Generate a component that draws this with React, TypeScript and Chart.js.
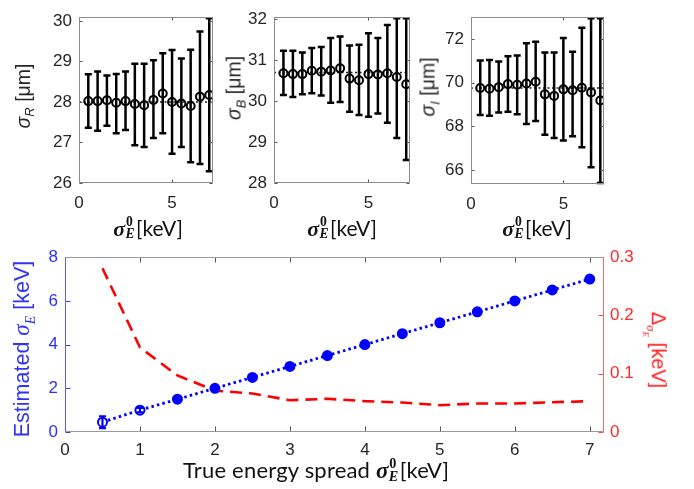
import React, { useEffect, useRef } from 'react';
import { Chart, registerables } from 'chart.js';
Chart.register(...registerables);

// ---------- data ----------
const X_TRUE = [0.5, 1, 1.5, 2, 2.5, 3, 3.5, 4, 4.5, 5, 5.5, 6, 6.5, 7];

const SR_MEAN = [28.02, 28.02, 28.04, 27.98, 28.02, 27.95, 27.92, 28.05, 28.21, 28.0, 27.96, 27.9, 28.13, 28.17];
const SR_HI = [28.68, 28.75, 28.65, 28.69, 28.75, 28.94, 28.94, 29.03, 29.2, 29.28, 29.07, 29.29, 29.74, 30.3];
const SR_LO = [27.36, 27.29, 27.41, 27.23, 27.31, 26.93, 26.89, 27.11, 27.23, 26.72, 26.89, 26.51, 26.47, 26.29];
const SR_REF = 28.0;

const SB_MEAN = [30.68, 30.66, 30.66, 30.74, 30.72, 30.75, 30.8, 30.55, 30.51, 30.66, 30.65, 30.68, 30.59, 30.41];
const SB_HI = [31.23, 31.23, 31.19, 31.3, 31.32, 31.54, 31.58, 31.36, 31.38, 31.66, 31.54, 31.86, 32.06, 32.06];
const SB_LO = [30.15, 30.1, 30.17, 30.19, 30.14, 29.96, 29.98, 29.74, 29.66, 29.62, 29.7, 29.47, 29.1, 28.56];
const SB_REF = 30.7;

const SI_MEAN = [69.75, 69.72, 69.79, 69.93, 69.9, 69.96, 70.04, 69.46, 69.39, 69.69, 69.65, 69.76, 69.55, 69.18];
const SI_HI = [71.01, 71.03, 70.96, 71.2, 71.24, 71.8, 71.87, 71.38, 71.38, 72.04, 71.41, 72.51, 72.99, 72.99];
const SI_LO = [68.52, 68.48, 68.63, 68.66, 68.55, 68.1, 68.24, 67.61, 67.46, 67.35, 67.54, 67.04, 66.13, 65.35];
const SI_REF = 69.75;

const EST = [0.45, 1.0, 1.5, 2.0, 2.5, 3.0, 3.5, 4.0, 4.5, 5.0, 5.5, 6.0, 6.5, 7.0];
const EST_ERR = [0.27, 0.1, 0.08, 0.08, 0.1, 0.08, 0.1, 0.08, 0.08, 0.08, 0.1, 0.08, 0.08, 0.08];
const DELTA = [0.281, 0.145, 0.097, 0.071, 0.066, 0.0545, 0.057, 0.053, 0.0506, 0.046, 0.049, 0.049, 0.051, 0.053];

const TOP_X_TICKS = [0, 5];
const SR_TICKS = [26, 27, 28, 29, 30];
const SB_TICKS = [28, 29, 30, 31, 32];
const SI_TICKS = [66, 68, 70, 72];
const BOT_X_TICKS = [0, 1, 2, 3, 4, 5, 6, 7];
const EST_TICKS = [0, 2, 4, 6, 8];
const DELTA_TICKS = [0, 0.1, 0.2, 0.3];

const TOP_X_MAX = 7.2;
const BOT_X_MAX = 7.19;

// ---------- helpers ----------
const SANS = '"Liberation Sans", Arial, sans-serif';
const BLUE = '#0000ff';
const RED = '#ff0000';

type TickSpec = { scale: string; sides: string[]; color: string; len: number };
type FrameSpec = { edges: { top: string; bottom: string; left: string; right: string }; ticks: TickSpec[] };

function makeFrame(spec: FrameSpec) {
  return {
    id: 'frame',
    afterDatasetsDraw(chart: any) {
      const { ctx, chartArea: a } = chart;
      ctx.save();
      ctx.beginPath();
      ctx.rect(a.left - 5, a.top - 2, a.right - a.left + 10, a.bottom - a.top + 4);
      ctx.clip();
      chart.data.datasets.forEach((ds: any, i: number) => {
        if (!ds.errLo) return;
        const meta = chart.getDatasetMeta(i);
        const xs = chart.scales[meta.xAxisID];
        const ys = chart.scales[meta.yAxisID];
        ctx.strokeStyle = ds.errColor;
        ctx.lineWidth = ds.errWidth;
        ds.data.forEach((p: any, j: number) => {
          const x = xs.getPixelForValue(p.x);
          const y1 = Math.min(ys.getPixelForValue(ds.errLo[j]), a.bottom - 1);
          const y2 = Math.max(ys.getPixelForValue(ds.errHi[j]), a.top + 1);
          ctx.beginPath();
          ctx.moveTo(x, y1);
          ctx.lineTo(x, y2);
          ctx.moveTo(x - ds.errCap, y1);
          ctx.lineTo(x + ds.errCap, y1);
          ctx.moveTo(x - ds.errCap, y2);
          ctx.lineTo(x + ds.errCap, y2);
          ctx.stroke();
        });
      });
      ctx.restore();
    },
    afterDraw(chart: any) {
      const { ctx, chartArea: a } = chart;
      ctx.save();
      const L = Math.round(a.left) + 0.5;
      const R = Math.round(a.right) - 0.5;
      const T = Math.round(a.top) + 0.5;
      const B = Math.round(a.bottom) - 0.5;
      ctx.lineWidth = 1;
      spec.ticks.forEach((t) => {
        const s = chart.scales[t.scale];
        ctx.strokeStyle = t.color;
        s.ticks.forEach((tk: any) => {
          const p = Math.round(s.getPixelForValue(tk.value)) + 0.5;
          t.sides.forEach((side) => {
            ctx.beginPath();
            if (side === 'bottom') { ctx.moveTo(p, B); ctx.lineTo(p, B - t.len); }
            if (side === 'top') { ctx.moveTo(p, T); ctx.lineTo(p, T + t.len); }
            if (side === 'left') { ctx.moveTo(L, p); ctx.lineTo(L + t.len, p); }
            if (side === 'right') { ctx.moveTo(R, p); ctx.lineTo(R - t.len, p); }
            ctx.stroke();
          });
        });
      });
      const e = spec.edges;
      const seg = (c: string, x1: number, y1: number, x2: number, y2: number) => {
        ctx.strokeStyle = c;
        ctx.beginPath();
        ctx.moveTo(x1, y1);
        ctx.lineTo(x2, y2);
        ctx.stroke();
      };
      seg(e.top, L, T, R, T);
      seg(e.bottom, L, B, R, B);
      seg(e.left, L, T, L, B);
      seg(e.right, R, T, R, B);
      ctx.restore();
    },
  };
}

function fixedTicks(vals: number[]) {
  return (s: any) => {
    s.ticks = vals.map((v) => ({ value: v }));
  };
}

function topPanelConfig(
  mean: number[], lo: number[], hi: number[], ref: number,
  yMin: number, yMax: number, yTicks: number[],
  yAxisWidth: number, padTop: number, padRight: number, xAxisHeight: number
) {
  const gray = '#8a8a8a';
  return {
    type: 'line',
    data: {
      datasets: [
        {
          data: X_TRUE.map((x, i) => ({ x, y: mean[i] })),
          showLine: false,
          pointRadius: 4,
          pointBorderWidth: 2,
          pointBorderColor: '#000',
          pointBackgroundColor: 'rgba(0,0,0,0)',
          errLo: lo,
          errHi: hi,
          errColor: '#000',
          errWidth: 2.5,
          errCap: 3.5,
        },
        {
          data: [{ x: 0, y: ref }, { x: TOP_X_MAX, y: ref }],
          borderColor: '#222',
          borderWidth: 1.5,
          borderDash: [2, 2.5],
          pointRadius: 0,
        },
      ],
    },
    options: {
      animation: false,
      responsive: false,
      devicePixelRatio: 1,
      events: [],
      layout: { padding: { top: padTop, right: padRight, left: 0, bottom: 0 } },
      plugins: { legend: { display: false }, tooltip: { enabled: false } },
      scales: {
        x: {
          type: 'linear',
          min: 0,
          max: TOP_X_MAX,
          afterBuildTicks: fixedTicks(TOP_X_TICKS),
          afterFit: (s: any) => { s.height = xAxisHeight; },
          grid: { display: false, drawTicks: false },
          border: { display: false },
          ticks: { color: '#262626', font: { family: SANS, size: 17 }, padding: 10, maxRotation: 0, autoSkip: false },
        },
        y: {
          type: 'linear',
          min: yMin,
          max: yMax,
          afterBuildTicks: fixedTicks(yTicks),
          afterFit: (s: any) => { s.width = yAxisWidth; },
          grid: { display: false, drawTicks: false },
          border: { display: false },
          ticks: { color: '#262626', font: { family: SANS, size: 17 }, padding: 7, autoSkip: false },
        },
      },
    },
    plugins: [
      makeFrame({
        edges: { top: gray, bottom: gray, left: gray, right: gray },
        ticks: [
          { scale: 'x', sides: ['bottom', 'top'], color: '#555', len: 3 },
          { scale: 'y', sides: ['left', 'right'], color: '#555', len: 3 },
        ],
      }),
    ],
  };
}

function bottomConfig() {
  return {
    type: 'line',
    data: {
      datasets: [
        {
          data: X_TRUE.map((x, i) => ({ x, y: EST[i] })),
          yAxisID: 'y',
          borderColor: BLUE,
          borderWidth: 2.8,
          borderDash: [2.5, 3.2],
          pointRadius: 4.5,
          pointBorderWidth: 2,
          pointBorderColor: BLUE,
          pointBackgroundColor: X_TRUE.map((_, i) => (i < 2 ? '#ffffff' : BLUE)),
          errLo: EST.map((v, i) => v - EST_ERR[i]),
          errHi: EST.map((v, i) => v + EST_ERR[i]),
          errColor: BLUE,
          errWidth: 2.2,
          errCap: 3.5,
        },
        {
          data: X_TRUE.map((x, i) => ({ x, y: DELTA[i] })),
          yAxisID: 'y1',
          borderColor: RED,
          borderWidth: 2.6,
          borderDash: [12, 7],
          pointRadius: 0,
        },
      ],
    },
    options: {
      animation: false,
      responsive: false,
      devicePixelRatio: 1,
      events: [],
      layout: { padding: { top: 14, right: 0, left: 0, bottom: 0 } },
      plugins: { legend: { display: false }, tooltip: { enabled: false } },
      scales: {
        x: {
          type: 'linear',
          min: 0,
          max: BOT_X_MAX,
          afterBuildTicks: fixedTicks(BOT_X_TICKS),
          afterFit: (s: any) => { s.height = 43; },
          grid: { display: false, drawTicks: false },
          border: { display: false },
          ticks: { color: '#262626', font: { family: SANS, size: 17 }, padding: 8, maxRotation: 0, autoSkip: false },
        },
        y: {
          type: 'linear',
          position: 'left',
          min: 0,
          max: 8,
          afterBuildTicks: fixedTicks(EST_TICKS),
          afterFit: (s: any) => { s.width = 65; },
          grid: { display: false, drawTicks: false },
          border: { display: false },
          ticks: { color: '#2f2ff5', font: { family: SANS, size: 17 }, padding: 7, autoSkip: false },
        },
        y1: {
          type: 'linear',
          position: 'right',
          min: 0,
          max: 0.3,
          afterBuildTicks: fixedTicks(DELTA_TICKS),
          afterFit: (s: any) => { s.width = 90; },
          grid: { display: false, drawTicks: false },
          border: { display: false },
          ticks: {
            color: '#ff2a2a',
            font: { family: SANS, size: 17 },
            padding: 6,
            autoSkip: false,
            callback: (v: any) => String(v),
          },
        },
      },
    },
    plugins: [
      makeFrame({
        edges: { top: '#9a9a9a', bottom: '#9a9a9a', left: '#5a5aff', right: '#ff6a6a' },
        ticks: [
          { scale: 'x', sides: ['bottom', 'top'], color: '#555', len: 5 },
          { scale: 'y', sides: ['left'], color: '#3a3aff', len: 5 },
          { scale: 'y1', sides: ['right'], color: '#ff4a4a', len: 5 },
        ],
      }),
    ],
  };
}

function ChartCanvas({ config, left, top, width, height }: any) {
  const ref = useRef<HTMLCanvasElement | null>(null);
  useEffect(() => {
    if (!ref.current) return;
    const c = new Chart(ref.current, config());
    return () => c.destroy();
  }, []);
  return (
    <canvas
      ref={ref}
      width={width}
      height={height}
      style={{ position: 'absolute', left, top, width, height }}
    />
  );
}

const SERIF = '"Liberation Serif", "DejaVu Serif", serif';
const TITLE_SANS = 'Lato, "Open Sans", sans-serif';

function SigmaE0({ size }: { size: number }) {
  return (
    <span style={{ display: 'inline-block', position: 'relative', fontFamily: SERIF, fontStyle: 'italic', fontWeight: 'bold', letterSpacing: 0 }}>
      <span style={{ fontSize: size }}>σ</span>
      <span style={{ display: 'inline-block', width: size * 0.5 }} />
      <span style={{ position: 'absolute', left: size * 0.58, top: -size * 0.15, fontSize: size * 0.62, fontStyle: 'normal' }}>0</span>
      <span style={{ position: 'absolute', left: size * 0.56, top: size * 0.42, fontSize: size * 0.62 }}>E</span>
    </span>
  );
}

function TopXTitle({ cx }: { cx: number }) {
  return (
    <div style={{ position: 'absolute', left: cx, top: 228, transform: 'translate(-50%,-50%)', whiteSpace: 'nowrap', color: '#111', lineHeight: 1 }}>
      <SigmaE0 size={22} />
      <span style={{ fontFamily: TITLE_SANS, fontSize: 21 }}>[keV]</span>
    </div>
  );
}

function TopYTitle({ cx, cy, sub }: { cx: number; cy: number; sub: string }) {
  return (
    <div style={{ position: 'absolute', left: cx, top: cy, transform: 'translate(-50%,-50%) rotate(-90deg)', whiteSpace: 'nowrap', color: '#262626', fontFamily: SANS, fontSize: 19.5, lineHeight: 1 }}>
      <span style={{ fontStyle: 'italic' }}>σ</span>
      <sub style={{ fontStyle: 'italic', fontSize: 13 }}>{sub}</sub> [μm]
    </div>
  );
}

export default function App() {
  return (
    <div style={{ position: 'absolute', left: 0, top: 0, width: 694, height: 489, background: '#fff', overflow: 'hidden' }}>
      <ChartCanvas left={0} top={0} width={225} height={215}
        config={() => topPanelConfig(SR_MEAN, SR_LO, SR_HI, SR_REF, 26, 30.09, SR_TICKS, 79, 6, 12, 32)} />
      <ChartCanvas left={225} top={0} width={205} height={215}
        config={() => topPanelConfig(SB_MEAN, SB_LO, SB_HI, SB_REF, 28, 32.05, SB_TICKS, 49, 5, 20, 32)} />
      <ChartCanvas left={430} top={0} width={264} height={215}
        config={() => topPanelConfig(SI_MEAN, SI_LO, SI_HI, SI_REF, 65.36, 72.99, SI_TICKS, 41, 6, 90, 31)} />
      <ChartCanvas left={0} top={240} width={694} height={235} config={bottomConfig} />

      <TopYTitle cx={25} cy={96} sub="R" />
      <TopYTitle cx={236} cy={88} sub="B" />
      <TopYTitle cx={430} cy={87} sub="I" />

      <TopXTitle cx={148} />
      <TopXTitle cx={342} />
      <TopXTitle cx={537} />

      {/* bottom x title */}
      <div style={{ position: 'absolute', left: 183, top: 459, whiteSpace: 'nowrap', color: '#111', lineHeight: 1 }}>
        <span style={{ fontFamily: TITLE_SANS, fontSize: 22, letterSpacing: 0.2 }}>True energy spread </span>
        <SigmaE0 size={23} />
        <span style={{ fontFamily: TITLE_SANS, fontSize: 22 }}>[keV]</span>
      </div>

      {/* bottom left y title */}
      <div style={{ position: 'absolute', left: 24, top: 349, transform: 'translate(-50%,-50%) rotate(-90deg)', whiteSpace: 'nowrap', color: '#3232f2', fontFamily: SANS, fontSize: 21.5, lineHeight: 1 }}>
        Estimated <span style={{ fontFamily: SERIF, fontStyle: 'italic', fontSize: 23 }}>σ</span>
        <sub style={{ fontFamily: SERIF, fontStyle: 'italic', fontSize: 14 }}>E</sub> [keV]
      </div>

      {/* bottom right y title */}
      <div style={{ position: 'absolute', left: 655, top: 350, transform: 'translate(-50%,-50%) rotate(90deg)', whiteSpace: 'nowrap', color: '#ff2020', fontFamily: SANS, fontSize: 20, lineHeight: 1 }}>
        Δ<sub style={{ fontSize: 13 }}><span style={{ fontFamily: SERIF, fontStyle: 'italic' }}>σ</span><sub style={{ fontFamily: SERIF, fontStyle: 'italic', fontSize: 9 }}>E</sub></sub> [keV]
      </div>
    </div>
  );
}
